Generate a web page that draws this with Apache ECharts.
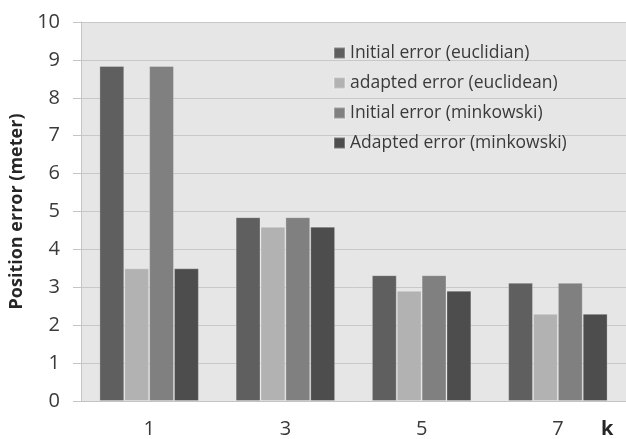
<!DOCTYPE html>
<html><head><meta charset="utf-8">
<script src="https://cdn.jsdelivr.net/npm/echarts@6/dist/echarts.min.js"></script>
<style>html,body{margin:0;padding:0;background:#fff}#c{width:626px;height:439px}</style>
</head><body><div id="c"></div>
<script>
var categories = ['1', '3', '5', '7'];
var seriesNames = ['Initial error (euclidian)', 'adapted error (euclidean)', 'Initial error (minkowski)', 'Adapted error (minkowski)'];
var initialEuclid = [8.84, 4.85, 3.32, 3.12];
var adaptedEuclid = [3.50, 4.60, 2.91, 2.30];
var initialMink = [8.84, 4.85, 3.32, 3.12];
var adaptedMink = [3.50, 4.60, 2.91, 2.30];
var yTicks = [0, 10, 1];
var colors = ['#5f5f5f', '#b2b2b2', '#808080', '#4d4d4d'];
var allData = [initialEuclid, adaptedEuclid, initialMink, adaptedMink];
var font = 'Open Sans';
var chart = echarts.init(document.getElementById('c'));
chart.setOption({
  animation: false,
  textStyle: {fontFamily: font},
  grid: {left: 81, top: 22, width: 549, height: 379, show: true, backgroundColor: '#e6e6e6', borderWidth: 0},
  legend: {
    orient: 'vertical', left: 328, top: 39, itemWidth: 11, itemHeight: 11, itemGap: 12,
    icon: 'rect',
    textStyle: {fontFamily: font, fontSize: 17.5, color: '#3a3a3a'},
    data: seriesNames
  },
  xAxis: {
    type: 'category', data: categories,
    axisLine: {lineStyle: {color: '#c4c4c4'}},
    axisTick: {length: 7, lineStyle: {color: '#c4c4c4'}},
    axisLabel: {fontSize: 20, color: '#3a3a3a', margin: 18},
    name: 'k', nameLocation: 'end', nameGap: -25,
    nameTextStyle: {fontSize: 20, fontWeight: 'bold', color: '#262626', verticalAlign: 'top', padding: [18, 0, 0, 0]}
  },
  yAxis: {
    type: 'value', min: yTicks[0], max: yTicks[1], interval: yTicks[2],
    axisLine: {show: true, lineStyle: {color: '#c4c4c4'}},
    axisTick: {show: true, length: 8, lineStyle: {color: '#c4c4c4'}},
    axisLabel: {fontSize: 20, color: '#3a3a3a', margin: 21},
    splitLine: {lineStyle: {color: '#c8c8c8', width: 1}},
    name: 'Position error (meter)', nameLocation: 'middle', nameGap: 51,
    nameTextStyle: {fontSize: 18, fontWeight: 'bold', color: '#262626'}
  },
  series: seriesNames.map(function (n, i) {
    return {
      name: n, type: 'bar', data: allData[i], barGap: '0%', barCategoryGap: '27%',
      itemStyle: {color: colors[i], borderColor: 'rgba(255,255,255,0.25)', borderWidth: 1}
    };
  })
});
</script></body></html>
